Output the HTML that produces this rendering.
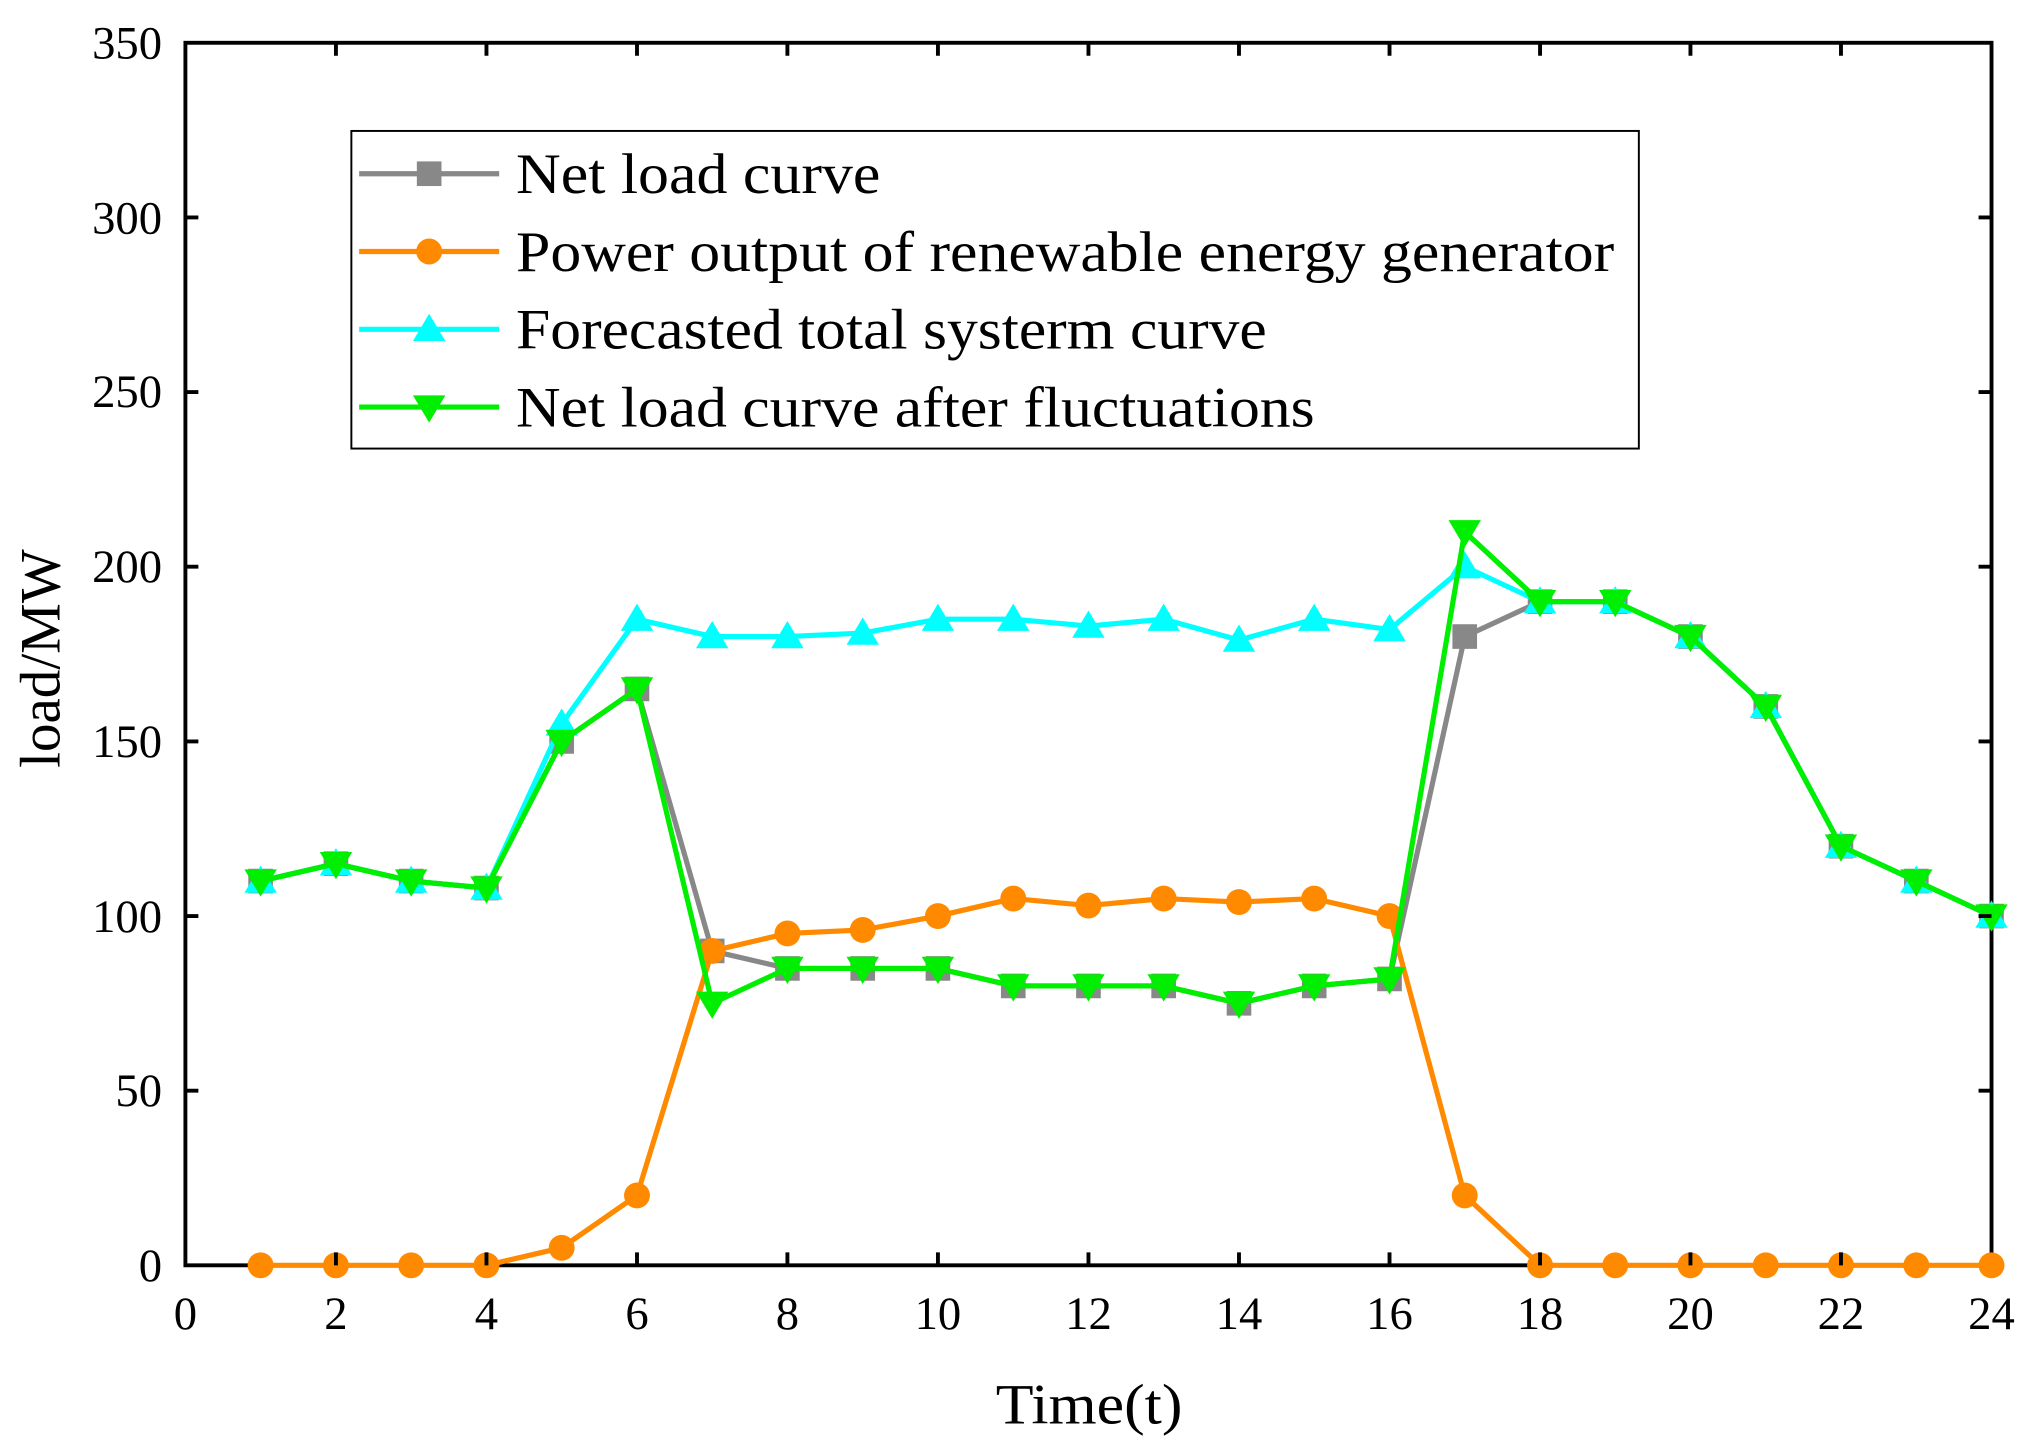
<!DOCTYPE html>
<html><head><meta charset="utf-8"><style>html,body{margin:0;padding:0;background:#fff}svg{display:block}</style></head>
<body>
<svg width="2033" height="1452" viewBox="0 0 1568 1120" preserveAspectRatio="none" xmlns="http://www.w3.org/2000/svg" xmlns:xlink="http://www.w3.org/1999/xlink" font-family="Liberation Serif, serif">
<defs>
<rect id="sq" x="-9.5" y="-9.5" width="19" height="19" fill="#888"/>
<circle id="ci" r="10" fill="#ff8a00"/>
<polygon id="tu" points="0,-12 12.5,9 -12.5,9" fill="#00ffff"/>
<polygon id="td" points="0,12 12.5,-9 -12.5,-9" fill="#00ee00"/>
</defs>
<rect x="143" y="33" width="1393" height="943" fill="none" stroke="#000" stroke-width="3"/>

<!-- gray -->
<polyline fill="none" stroke="#888" stroke-width="4" points="201,679.6 259.1,666.2 317.1,679.6 375.2,685 433.2,571.9 491.3,531.4 549.3,733.5 607.3,747 665.4,747 723.4,747 781.5,760.5 839.5,760.5 897.5,760.5 955.6,773.9 1013.6,760.5 1071.7,755.1 1129.7,491 1187.8,464.1 1245.8,464.1 1303.8,491 1361.9,544.9 1419.9,652.7 1478,679.6 1536,706.6"/>
<g>
<use xlink:href="#sq" x="201" y="679.6"/><use xlink:href="#sq" x="259.1" y="666.2"/><use xlink:href="#sq" x="317.1" y="679.6"/><use xlink:href="#sq" x="375.2" y="685"/><use xlink:href="#sq" x="433.2" y="571.9"/><use xlink:href="#sq" x="491.3" y="531.4"/><use xlink:href="#sq" x="549.3" y="733.5"/><use xlink:href="#sq" x="607.3" y="747"/><use xlink:href="#sq" x="665.4" y="747"/><use xlink:href="#sq" x="723.4" y="747"/><use xlink:href="#sq" x="781.5" y="760.5"/><use xlink:href="#sq" x="839.5" y="760.5"/><use xlink:href="#sq" x="897.5" y="760.5"/><use xlink:href="#sq" x="955.6" y="773.9"/><use xlink:href="#sq" x="1013.6" y="760.5"/><use xlink:href="#sq" x="1071.7" y="755.1"/><use xlink:href="#sq" x="1129.7" y="491"/><use xlink:href="#sq" x="1187.8" y="464.1"/><use xlink:href="#sq" x="1245.8" y="464.1"/><use xlink:href="#sq" x="1303.8" y="491"/><use xlink:href="#sq" x="1361.9" y="544.9"/><use xlink:href="#sq" x="1419.9" y="652.7"/><use xlink:href="#sq" x="1478" y="679.6"/><use xlink:href="#sq" x="1536" y="706.6"/>
</g>

<!-- cyan -->
<polyline fill="none" stroke="#00ffff" stroke-width="4" points="201,679.6 259.1,666.2 317.1,679.6 375.2,685 433.2,558.4 491.3,477.6 549.3,491 607.3,491 665.4,488.3 723.4,477.6 781.5,477.6 839.5,482.9 897.5,477.6 955.6,493.7 1013.6,477.6 1071.7,485.6 1129.7,437.1 1187.8,464.1 1245.8,464.1 1303.8,491 1361.9,544.9 1419.9,652.7 1478,679.6 1536,706.6"/>
<g>
<use xlink:href="#tu" x="201" y="679.6"/><use xlink:href="#tu" x="259.1" y="666.2"/><use xlink:href="#tu" x="317.1" y="679.6"/><use xlink:href="#tu" x="375.2" y="685"/><use xlink:href="#tu" x="433.2" y="558.4"/><use xlink:href="#tu" x="491.3" y="477.6"/><use xlink:href="#tu" x="549.3" y="491"/><use xlink:href="#tu" x="607.3" y="491"/><use xlink:href="#tu" x="665.4" y="488.3"/><use xlink:href="#tu" x="723.4" y="477.6"/><use xlink:href="#tu" x="781.5" y="477.6"/><use xlink:href="#tu" x="839.5" y="482.9"/><use xlink:href="#tu" x="897.5" y="477.6"/><use xlink:href="#tu" x="955.6" y="493.7"/><use xlink:href="#tu" x="1013.6" y="477.6"/><use xlink:href="#tu" x="1071.7" y="485.6"/><use xlink:href="#tu" x="1129.7" y="437.1"/><use xlink:href="#tu" x="1187.8" y="464.1"/><use xlink:href="#tu" x="1245.8" y="464.1"/><use xlink:href="#tu" x="1303.8" y="491"/><use xlink:href="#tu" x="1361.9" y="544.9"/><use xlink:href="#tu" x="1419.9" y="652.7"/><use xlink:href="#tu" x="1478" y="679.6"/><use xlink:href="#tu" x="1536" y="706.6"/>
</g>

<!-- orange -->
<polyline fill="none" stroke="#ff8a00" stroke-width="4" points="201,976 259.1,976 317.1,976 375.2,976 433.2,962.5 491.3,922.1 549.3,733.5 607.3,720 665.4,717.3 723.4,706.6 781.5,693.1 839.5,698.5 897.5,693.1 955.6,695.8 1013.6,693.1 1071.7,706.6 1129.7,922.1 1187.8,976 1245.8,976 1303.8,976 1361.9,976 1419.9,976 1478,976 1536,976"/>
<g>
<use xlink:href="#ci" x="201" y="976"/><use xlink:href="#ci" x="259.1" y="976"/><use xlink:href="#ci" x="317.1" y="976"/><use xlink:href="#ci" x="375.2" y="976"/><use xlink:href="#ci" x="433.2" y="962.5"/><use xlink:href="#ci" x="491.3" y="922.1"/><use xlink:href="#ci" x="549.3" y="733.5"/><use xlink:href="#ci" x="607.3" y="720"/><use xlink:href="#ci" x="665.4" y="717.3"/><use xlink:href="#ci" x="723.4" y="706.6"/><use xlink:href="#ci" x="781.5" y="693.1"/><use xlink:href="#ci" x="839.5" y="698.5"/><use xlink:href="#ci" x="897.5" y="693.1"/><use xlink:href="#ci" x="955.6" y="695.8"/><use xlink:href="#ci" x="1013.6" y="693.1"/><use xlink:href="#ci" x="1071.7" y="706.6"/><use xlink:href="#ci" x="1129.7" y="922.1"/><use xlink:href="#ci" x="1187.8" y="976"/><use xlink:href="#ci" x="1245.8" y="976"/><use xlink:href="#ci" x="1303.8" y="976"/><use xlink:href="#ci" x="1361.9" y="976"/><use xlink:href="#ci" x="1419.9" y="976"/><use xlink:href="#ci" x="1478" y="976"/><use xlink:href="#ci" x="1536" y="976"/>
</g>

<!-- green -->
<polyline fill="none" stroke="#00ee00" stroke-width="4" points="201,679.6 259.1,666.2 317.1,679.6 375.2,685 433.2,571.9 491.3,531.4 549.3,773.9 607.3,747 665.4,747 723.4,747 781.5,760.5 839.5,760.5 897.5,760.5 955.6,773.9 1013.6,760.5 1071.7,755.1 1129.7,410.2 1187.8,464.1 1245.8,464.1 1303.8,491 1361.9,544.9 1419.9,652.7 1478,679.6 1536,706.6"/>
<g>
<use xlink:href="#td" x="201" y="679.6"/><use xlink:href="#td" x="259.1" y="666.2"/><use xlink:href="#td" x="317.1" y="679.6"/><use xlink:href="#td" x="375.2" y="685"/><use xlink:href="#td" x="433.2" y="571.9"/><use xlink:href="#td" x="491.3" y="531.4"/><use xlink:href="#td" x="549.3" y="773.9"/><use xlink:href="#td" x="607.3" y="747"/><use xlink:href="#td" x="665.4" y="747"/><use xlink:href="#td" x="723.4" y="747"/><use xlink:href="#td" x="781.5" y="760.5"/><use xlink:href="#td" x="839.5" y="760.5"/><use xlink:href="#td" x="897.5" y="760.5"/><use xlink:href="#td" x="955.6" y="773.9"/><use xlink:href="#td" x="1013.6" y="760.5"/><use xlink:href="#td" x="1071.7" y="755.1"/><use xlink:href="#td" x="1129.7" y="410.2"/><use xlink:href="#td" x="1187.8" y="464.1"/><use xlink:href="#td" x="1245.8" y="464.1"/><use xlink:href="#td" x="1303.8" y="491"/><use xlink:href="#td" x="1361.9" y="544.9"/><use xlink:href="#td" x="1419.9" y="652.7"/><use xlink:href="#td" x="1478" y="679.6"/><use xlink:href="#td" x="1536" y="706.6"/>
</g>

<!-- ticks -->
<g stroke="#000" stroke-width="3">
<path d="M259.1,976v-10M375.2,976v-10M491.3,976v-10M607.3,976v-10M723.4,976v-10M839.5,976v-10M955.6,976v-10M1071.7,976v-10M1187.8,976v-10M1303.8,976v-10M1419.9,976v-10
M259.1,33v10M375.2,33v10M491.3,33v10M607.3,33v10M723.4,33v10M839.5,33v10M955.6,33v10M1071.7,33v10M1187.8,33v10M1303.8,33v10M1419.9,33v10
M143,841.3h10M143,706.6h10M143,571.9h10M143,437.1h10M143,302.4h10M143,167.7h10
M1536,841.3h-10M1536,706.6h-10M1536,571.9h-10M1536,437.1h-10M1536,302.4h-10M1536,167.7h-10"/>
</g>
<g font-size="36" text-anchor="middle">
<text x="143" y="1025">0</text><text x="259.1" y="1025">2</text><text x="375.2" y="1025">4</text><text x="491.3" y="1025">6</text><text x="607.3" y="1025">8</text><text x="723.4" y="1025">10</text><text x="839.5" y="1025">12</text><text x="955.6" y="1025">14</text><text x="1071.7" y="1025">16</text><text x="1187.8" y="1025">18</text><text x="1303.8" y="1025">20</text><text x="1419.9" y="1025">22</text><text x="1536" y="1025">24</text>
</g>
<g font-size="36" text-anchor="end">
<text x="125" y="988">0</text><text x="125" y="853">50</text><text x="125" y="719">100</text><text x="125" y="584">150</text><text x="125" y="449">200</text><text x="125" y="314">250</text><text x="125" y="180">300</text><text x="125" y="45">350</text>
</g>
<text x="768" y="1098" font-size="44" textLength="144" lengthAdjust="spacingAndGlyphs">Time(t)</text>
<text transform="translate(46,508) rotate(-90)" font-size="44" text-anchor="middle">load/MW</text>

<rect x="271" y="101" width="993" height="245" fill="#fff" stroke="#000" stroke-width="1.5"/>
<g stroke-width="4">
<line x1="277" y1="134" x2="385" y2="134" stroke="#888"/><use xlink:href="#sq" x="331" y="134"/>
<line x1="277" y1="194" x2="385" y2="194" stroke="#ff8a00"/><use xlink:href="#ci" x="331" y="194"/>
<line x1="277" y1="254" x2="385" y2="254" stroke="#00ffff"/><use xlink:href="#tu" x="331" y="254"/>
<line x1="277" y1="314" x2="385" y2="314" stroke="#00ee00"/><use xlink:href="#td" x="331" y="314"/>
</g>
<g font-size="44" lengthAdjust="spacingAndGlyphs">
<text x="398" y="149" textLength="281" lengthAdjust="spacingAndGlyphs">Net load curve</text>
<text x="398" y="209" textLength="847" lengthAdjust="spacingAndGlyphs">Power output of renewable energy generator</text>
<text x="398" y="269" textLength="579" lengthAdjust="spacingAndGlyphs">Forecasted total systerm curve</text>
<text x="398" y="329" textLength="616" lengthAdjust="spacingAndGlyphs">Net load curve after fluctuations</text>
</g>
</svg>
</body></html>
